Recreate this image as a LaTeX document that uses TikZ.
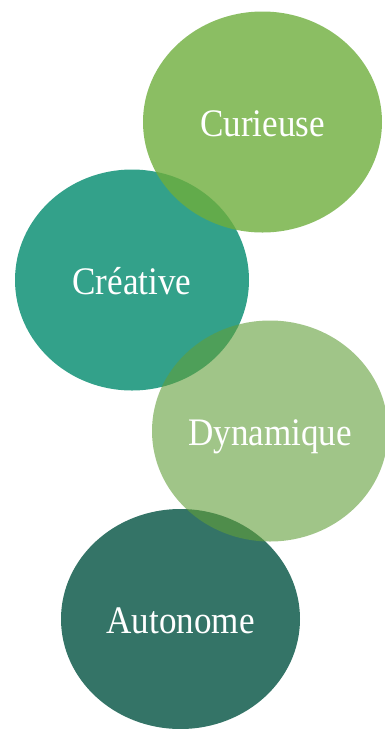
\documentclass[tikz,border=0pt]{standalone}
\usepackage{fontspec}
\setmainfont{Liberation Serif}[FakeStretch=0.9]
\usetikzlibrary{shapes.geometric}
\definecolor{curgreen}{HTML}{6EAE3C}
\definecolor{creteal}{HTML}{33A18A}
\definecolor{dyngreen}{HTML}{619E39}
\definecolor{autteal}{HTML}{347467}
\tikzset{bubble/.style={ellipse, draw=none, inner sep=0pt, minimum width=238pt, minimum height=221pt,
  text=white, text opacity=1, font=\fontsize{39}{39}\selectfont, text height=28pt, text depth=0pt},}

\begin{document}
\begin{tikzpicture}[x=1pt, y=-1pt]
\useasboundingbox (0,0) rectangle (385,729);
\node [bubble, fill=creteal, minimum width=234pt] (cre) at (132,280) {Créative};
\node [bubble, fill=autteal, minimum width=239pt, minimum height=220pt] (aut) at (180.5,619) {Autonome};
\node [bubble, fill=curgreen, fill opacity=0.8, minimum width=239pt] (cur) at (262.5,122) {Curieuse};
\node [bubble, fill=dyngreen, fill opacity=0.6, minimum width=236pt] (dyn) at (270,431) {Dynamique};
\end{tikzpicture}
\end{document}
